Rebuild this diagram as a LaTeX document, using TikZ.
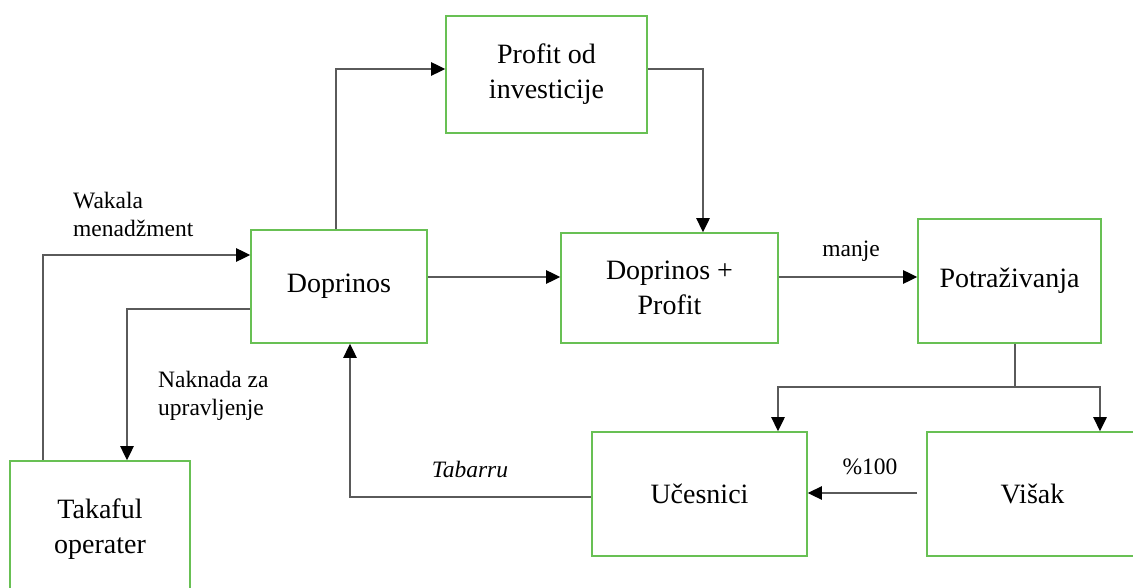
\documentclass[tikz,border=0pt]{standalone}
\usepackage{fontspec}
\setmainfont{Liberation Serif}
\usetikzlibrary{arrows.meta}
\definecolor{boxgreen}{RGB}{104,192,84}
\definecolor{linegray}{RGB}{90,90,90}
\tikzset{
  box/.style={draw=boxgreen, line width=1.8pt, fill=white, inner sep=0pt, align=center,
    font=\fontsize{28}{35}\selectfont},
  conn/.style={draw=linegray, line width=1.4pt,
    -{Triangle[length=14pt,width=13.5pt,color=black]}},
  plain/.style={draw=linegray, line width=1.4pt},
  lbl/.style={font=\fontsize{23.5}{28}\selectfont, inner sep=0pt}
}
\begin{document}
\begin{tikzpicture}[x=1pt,y=-1pt]
\useasboundingbox (0,0) rectangle (1133,588);
\clip (0,0) rectangle (1133,588);
\fill[white] (0,0) rectangle (1133,588);
% boxes
\node[box, minimum width=201pt, minimum height=117pt] (profit) at (546.5,74.5) {Profit od\\investicije};
\node[box, minimum width=176pt, minimum height=113pt] (dop) at (339,286.5) {Doprinos};
\node[box, minimum width=217pt, minimum height=110pt] (dp) at (669.5,288) {Doprinos +\\Profit};
\node[box, minimum width=183pt, minimum height=124pt] (pot) at (1009.5,281) {Potraživanja};
\node[box, minimum width=215pt, minimum height=124pt] (uce) at (699.5,494) {Učesnici};
\node[box, minimum width=211pt, minimum height=124pt] (vis) at (1032.5,494) {Višak};
\node[box, minimum width=180pt, minimum height=136pt] (tak) at (100,529) {Takaful\\operater};
% connectors
\draw[conn] ([xshift=-3pt]dop.north) |- ([yshift=5.5pt]profit.west);
\draw[conn] ([yshift=5.5pt]profit.east) -| ([xshift=33.5pt]dp.north);
\draw[conn] ([yshift=9.5pt]dop.east) -- ([yshift=9.5pt]dop.east -| dp.west);
\draw[conn] ([yshift=11pt]dp.east) -- ([yshift=11pt]dp.east -| pot.west);
\coordinate (split) at (1015,387);
\draw[plain] (pot.south -| split) -- (split);
\draw[conn] (split) -| ([xshift=78.5pt]uce.north);
\draw[conn] (split) -| ([xshift=67.5pt]vis.north);
\draw[conn] ([xshift=-9pt,yshift=1pt]vis.west) -- ([yshift=1pt]uce.east);
\draw[conn] ([yshift=-3pt]uce.west) -| ([xshift=11pt]dop.south);
\draw[conn] ([xshift=-57pt]tak.north) |- ([yshift=31.5pt]dop.west);
\draw[conn] ([yshift=-22.5pt]dop.west) -| ([xshift=27pt]tak.north);
% labels
\node[lbl, align=left, anchor=west] (wak) at (73,214) {Wakala\\menadžment};
\node[lbl, align=left, anchor=west] (nak) at (158,396) {Naknada za\\upravljenje};
\node[lbl] (manje) at (851,251) {manje};
\node[lbl] (pct) at (870,467) {\%100};
\node[lbl, font=\fontsize{23.5}{28}\selectfont\itshape] (tab) at (470,469) {Tabarru};
\end{tikzpicture}
\end{document}
